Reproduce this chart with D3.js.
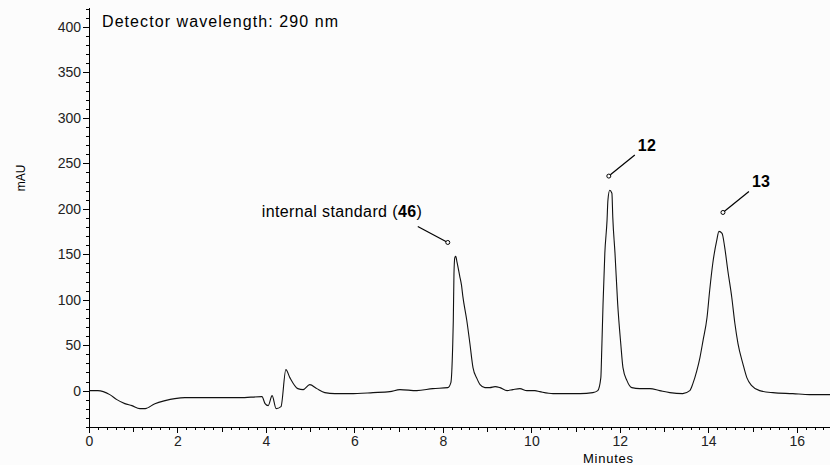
<!DOCTYPE html>
<html>
<head>
  <meta charset="utf-8">
  <title>Chromatogram</title>
  <style type="text/css">
    body { margin: 0; background: #fcfcfc; }
    svg { display: block; font-family: "Liberation Sans", Arial, sans-serif; }
    .tick text { font-size: 14px; fill: #222; }
    .axis path, .axis line { stroke: #000; shape-rendering: crispEdges; }
    .trace { fill: none; stroke: #111; stroke-width: 1.1; }
    .note line { stroke: #000; stroke-width: 1.2; }
    .note circle { fill: #fff; stroke: #000; stroke-width: 1; }
  </style>
</head>
<body>
<script src="https://cdnjs.cloudflare.com/ajax/libs/d3/7.8.5/d3.min.js"></script>
<script>
// retention time (min) and absorbance (mAU)
var times = [0, 0.20, 0.47, 0.63, 0.81, 0.97, 1.15, 1.27, 1.49, 1.72, 1.94, 2.17, 2.92, 3.41, 3.91, 3.98,
  4.05, 4.14, 4.23, 4.34, 4.45, 4.54, 4.72, 4.84, 4.99, 5.15, 5.33, 5.56, 5.90, 6.42, 6.80, 7.03,
  7.41, 7.77, 8.11, 8.18, 8.22, 8.235, 8.25, 8.27, 8.29, 8.32, 8.38, 8.42, 8.45, 8.54, 8.61, 8.68, 8.77,
  8.84, 8.95, 9.06, 9.18, 9.29, 9.45, 9.58, 9.74, 9.90, 10.08, 10.19, 10.49, 10.80, 11.10, 11.39, 11.50,
  11.57, 11.59, 11.62, 11.66, 11.71, 11.73, 11.77, 11.82, 11.84, 11.89, 11.95, 12.02, 12.07, 12.16,
  12.27, 12.45, 12.68, 12.90, 13.13, 13.42, 13.58, 13.65, 13.74, 13.81, 13.88, 13.97, 14.03, 14.10,
  14.19, 14.24, 14.31, 14.37, 14.44, 14.53, 14.60, 14.67, 14.78, 14.87, 14.98, 15.16, 15.46, 15.91,
  16.29, 16.75];
var mAU = [0, 0, -4.4, -9.9, -14.3, -16.5, -19.8, -19.8, -14.3, -11.0, -8.8, -7.7, -7.7, -7.7, -6.6, -14.3,
  -16.5, -5.5, -19.8, -17.6, 23.1, 14.3, 2.2, 1.1, 6.6, 2.2, -2.2, -3.3, -3.3, -2.2, -1.1, 1.1,
  0, 2.2, 3.3, 8.8, 47.4, 77.1, 128.9, 146.6, 147.7, 141.0, 126.0, 116.0, 104.0, 77.1, 51.8, 25.3, 13.2,
  6.6, 3.3, 3.3, 4.4, 3.3, 0, 1.1, 2.2, 0, 0, -1.1, -3.3, -3.3, -3.3, -2.2, 0,
  14.3, 44.1, 95.9, 151.0, 187.3, 209.4, 220.4, 217.1, 190.6, 151.0, 95.9, 51.8, 25.3, 11.0,
  3.3, 2.2, 2.2, 0, -2.2, -3.3, 0, 7.7, 22.0, 36.4, 55.1, 80.4, 110.2, 139.9,
  165.3, 175.2, 173.0, 157.6, 132.2, 102.5, 73.8, 51.8, 29.8, 14.3, 5.5, 0, -2.2, -3.3,
  -4.4, -4.4];

// peak labels: marker position in data units
var noteTimes = [8.11, 11.75, 14.33];
var noteValues = [163, 236, 196];
var noteNames = ["internal standard (", "", ""];
var noteBold = ["46", "12", "13"];
var noteTail = [")", "", ""];

var xTicks = [0, 2, 4, 6, 8, 10, 12, 14, 16];
var yTicks = [0, 50, 100, 150, 200, 250, 300, 350, 400];

var W = 830, H = 465;
var margin = {left: 89, top: 7, right: 0, bottom: 38};

var svg = d3.select('body').append('svg')
  .attr('width', W)
  .attr('height', H);

var x = d3.scaleLinear().domain([0, 16.75]).range([margin.left, W - margin.right]);
var y = d3.scaleLinear().domain([-40, 422]).range([H - margin.bottom, margin.top]);

// minor ticks first, then the labelled axis on top
var xMinor = d3.range(0, 16.75, 0.2);
svg.append('g').attr('class', 'axis')
  .attr('transform', 'translate(0,' + y(-40) + ')')
  .call(d3.axisBottom(x).tickValues(xMinor).tickSize(3).tickFormat(''))
  .call(function(g){ g.select('.domain').remove(); });
svg.append('g').attr('class', 'axis')
  .attr('transform', 'translate(0,' + y(-40) + ')')
  .call(d3.axisBottom(x).tickValues(d3.range(1, 17, 2)).tickSize(5).tickFormat(''))
  .call(function(g){ g.select('.domain').remove(); });
svg.append('g').attr('class', 'axis')
  .attr('transform', 'translate(0,' + y(-40) + ')')
  .call(d3.axisBottom(x).tickValues(xTicks).tickSize(6).tickSizeOuter(0).tickPadding(3));

var yMinor = d3.range(-40, 421, 10);
svg.append('g').attr('class', 'axis')
  .attr('transform', 'translate(' + x(0) + ',0)')
  .call(d3.axisLeft(y).tickValues(yMinor).tickSize(3).tickFormat(''))
  .call(function(g){ g.select('.domain').remove(); });
svg.append('g').attr('class', 'axis')
  .attr('transform', 'translate(' + x(0) + ',0)')
  .call(d3.axisLeft(y).tickValues(yTicks).tickSize(6).tickSizeOuter(0).tickPadding(2));

// axis titles
svg.append('text')
  .attr('transform', 'translate(25,178) rotate(-90)')
  .attr('text-anchor', 'middle')
  .style('font-size', '12px')
  .text('mAU');
svg.append('text')
  .attr('x', 608).attr('y', 463)
  .attr('text-anchor', 'middle')
  .style('font-size', '13px')
  .attr('textLength', 50)
  .text('Minutes');

svg.append('text')
  .attr('x', 102).attr('y', 27)
  .style('font-size', '16px')
  .attr('textLength', 236)
  .attr('lengthAdjust', 'spacing')
  .text('Detector wavelength: 290 nm');

// trace
var data = times.map(function(t, i){ return {t: t, v: mAU[i]}; });
var line = d3.line()
  .x(function(d){ return x(d.t); })
  .y(function(d){ return y(d.v); })
  .curve(d3.curveMonotoneX);
svg.append('path').datum(data).attr('class', 'trace').attr('d', line);

// peak annotations
var notes = noteTimes.map(function(t, i){
  return {t: t, v: noteValues[i], name: noteNames[i], bold: noteBold[i], tail: noteTail[i]};
});
var g = svg.selectAll('.note').data(notes).enter().append('g').attr('class', 'note');

g.append('line')
  .attr('x1', function(d){ return x(d.t); })
  .attr('y1', function(d){ return y(d.v); })
  .attr('x2', function(d, i){ return x(d.t) + (i === 0 ? -30 : 26); })
  .attr('y2', function(d, i){ return y(d.v) + (i === 0 ? -16 : -21); });
g.append('circle')
  .attr('cx', function(d){ return x(d.t); })
  .attr('cy', function(d){ return y(d.v); })
  .attr('r', 2);

var labels = g.append('text')
  .attr('x', function(d, i){ return i === 0 ? x(d.t) - 186 : x(d.t) + 29; })
  .attr('y', function(d){ return y(d.v) - 25; })
  .style('font-size', '16px')
  .attr('textLength', function(d, i){ return i === 0 ? 160 : 18; })
  .attr('lengthAdjust', 'spacing');
labels.append('tspan').text(function(d){ return d.name; });
labels.append('tspan').style('font-weight', 'bold').text(function(d){ return d.bold; });
labels.append('tspan').text(function(d){ return d.tail; });
</script>
</body>
</html>
